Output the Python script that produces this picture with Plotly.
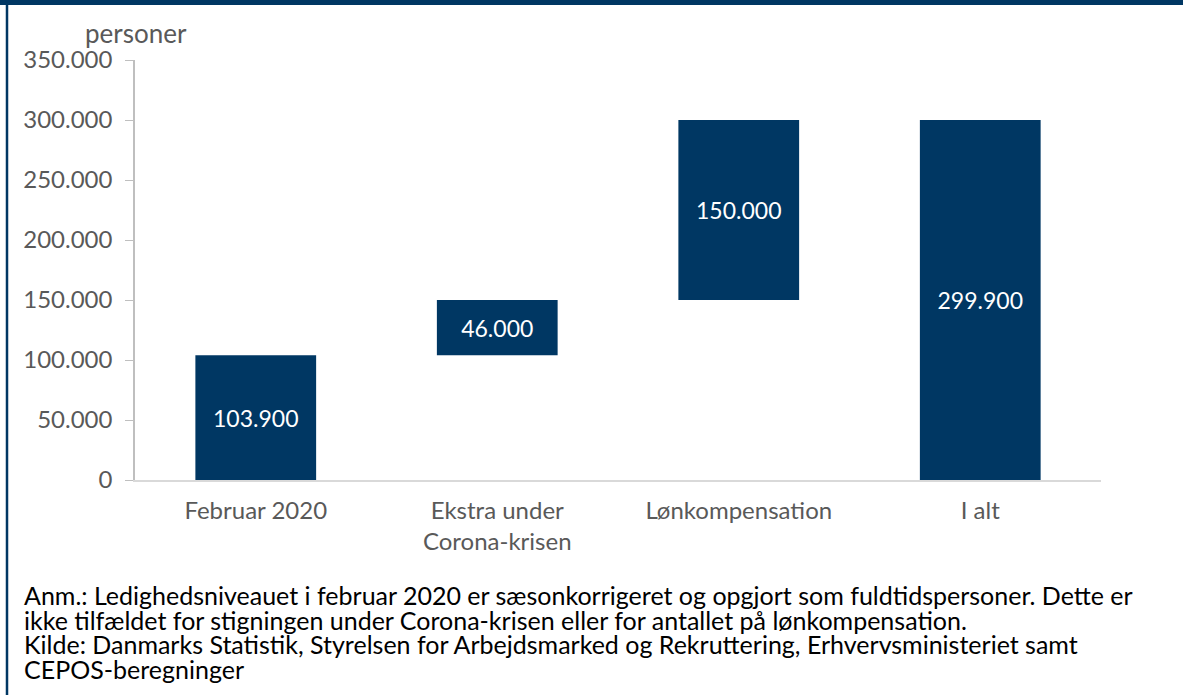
import plotly.graph_objects as go

# Ledighed: fra februar 2020 til nu (personer)
categories = ["Februar 2020", "Ekstra under<br>Corona-krisen", "Lønkompensation", "I alt"]
measures = ["absolute", "relative", "relative", "total"]
values = [103900, 46000, 150000, 0]
bar_labels = [103900, 46000, 150000, 299900]

y_ticks = [0, 50000, 100000, 150000, 200000, 250000, 300000, 350000]

note_lines = [
    "Anm.: Ledighedsniveauet i februar 2020 er sæsonkorrigeret og opgjort som fuldtidspersoner. Dette er",
    "ikke tilfældet for stigningen under Corona-krisen eller for antallet på lønkompensation.",
    "Kilde: Danmarks Statistik, Styrelsen for Arbejdsmarked og Rekruttering, Erhvervsministeriet samt",
    "CEPOS-beregninger",
]

NAVY = "#003763"
GREY_TXT = "#595959"
FONT = "Lato, 'Open Sans', sans-serif"

# plot area in pixels (for placing the paper-level extras)
L, R, T, B = 135, 82, 60, 215
W, H = 1183, 695
PW, PH = W - L - R, H - T - B


def dk(n):
    return f"{n:,}".replace(",", ".")


def px_x(x):
    return (x - L) / PW


def px_y(y):
    return (H - B - y) / PH


fig = go.Figure(
    go.Waterfall(
        x=categories,
        y=values,
        measure=measures,
        text=[dk(v) for v in bar_labels],
        textposition="inside",
        insidetextanchor="middle",
        textfont=dict(family=FONT, size=23, color="white"),
        increasing=dict(marker=dict(color=NAVY)),
        decreasing=dict(marker=dict(color=NAVY)),
        totals=dict(marker=dict(color=NAVY)),
        connector=dict(visible=False),
        width=0.5,
        hoverinfo="skip",
    )
)

fig.update_layout(
    width=W,
    height=H,
    margin=dict(l=L, r=R, t=T, b=B, autoexpand=False),
    paper_bgcolor="white",
    plot_bgcolor="white",
    separators=",.",
    showlegend=False,
    font=dict(family=FONT, color=GREY_TXT, size=24),
    uniformtext=dict(mode=False),
)

fig.update_yaxes(
    range=[0, 350000],
    tickvals=y_ticks,
    ticktext=[dk(v) for v in y_ticks],
    showgrid=False,
    zeroline=False,
    showline=True,
    linecolor="#bfbfbf",
    linewidth=1.5,
    ticks="outside",
    ticklen=8,
    tickcolor="#bfbfbf",
    tickfont=dict(family=FONT, size=24, color=GREY_TXT),
    ticklabelstandoff=8,
)
fig.update_xaxes(
    showgrid=False,
    showline=True,
    linecolor="#d9d9d9",
    linewidth=2,
    ticks="",
    tickfont=dict(family=FONT, size=24, color=GREY_TXT),
    ticklabelstandoff=8,
)

# unit label above the y-axis
fig.add_annotation(
    text="personer", xref="paper", yref="paper",
    x=px_x(136), y=px_y(33), xanchor="center", yanchor="middle",
    showarrow=False, font=dict(family=FONT, size=26, color=GREY_TXT),
)

# note and source under the chart, one line each
for i, line in enumerate(note_lines):
    fig.add_annotation(
        text=line, xref="paper", yref="paper",
        x=px_x(22), y=px_y(595 + i * 24.5), xanchor="left", yanchor="middle",
        showarrow=False, font=dict(family=FONT, size=25, color="black"),
    )

# frame: top band and left rule
fig.add_shape(type="rect", xref="paper", yref="paper",
              x0=px_x(0), x1=px_x(W), y0=px_y(5), y1=px_y(0),
              fillcolor=NAVY, line_width=0, layer="above")
fig.add_shape(type="line", xref="paper", yref="paper",
              x0=px_x(7), x1=px_x(7), y0=px_y(H), y1=px_y(0),
              line=dict(color=NAVY, width=2.5), layer="above")

fig.write_html(
    "out.html",
    config={"displayModeBar": False},
    post_script="document.body.style.margin='0px';",
)
